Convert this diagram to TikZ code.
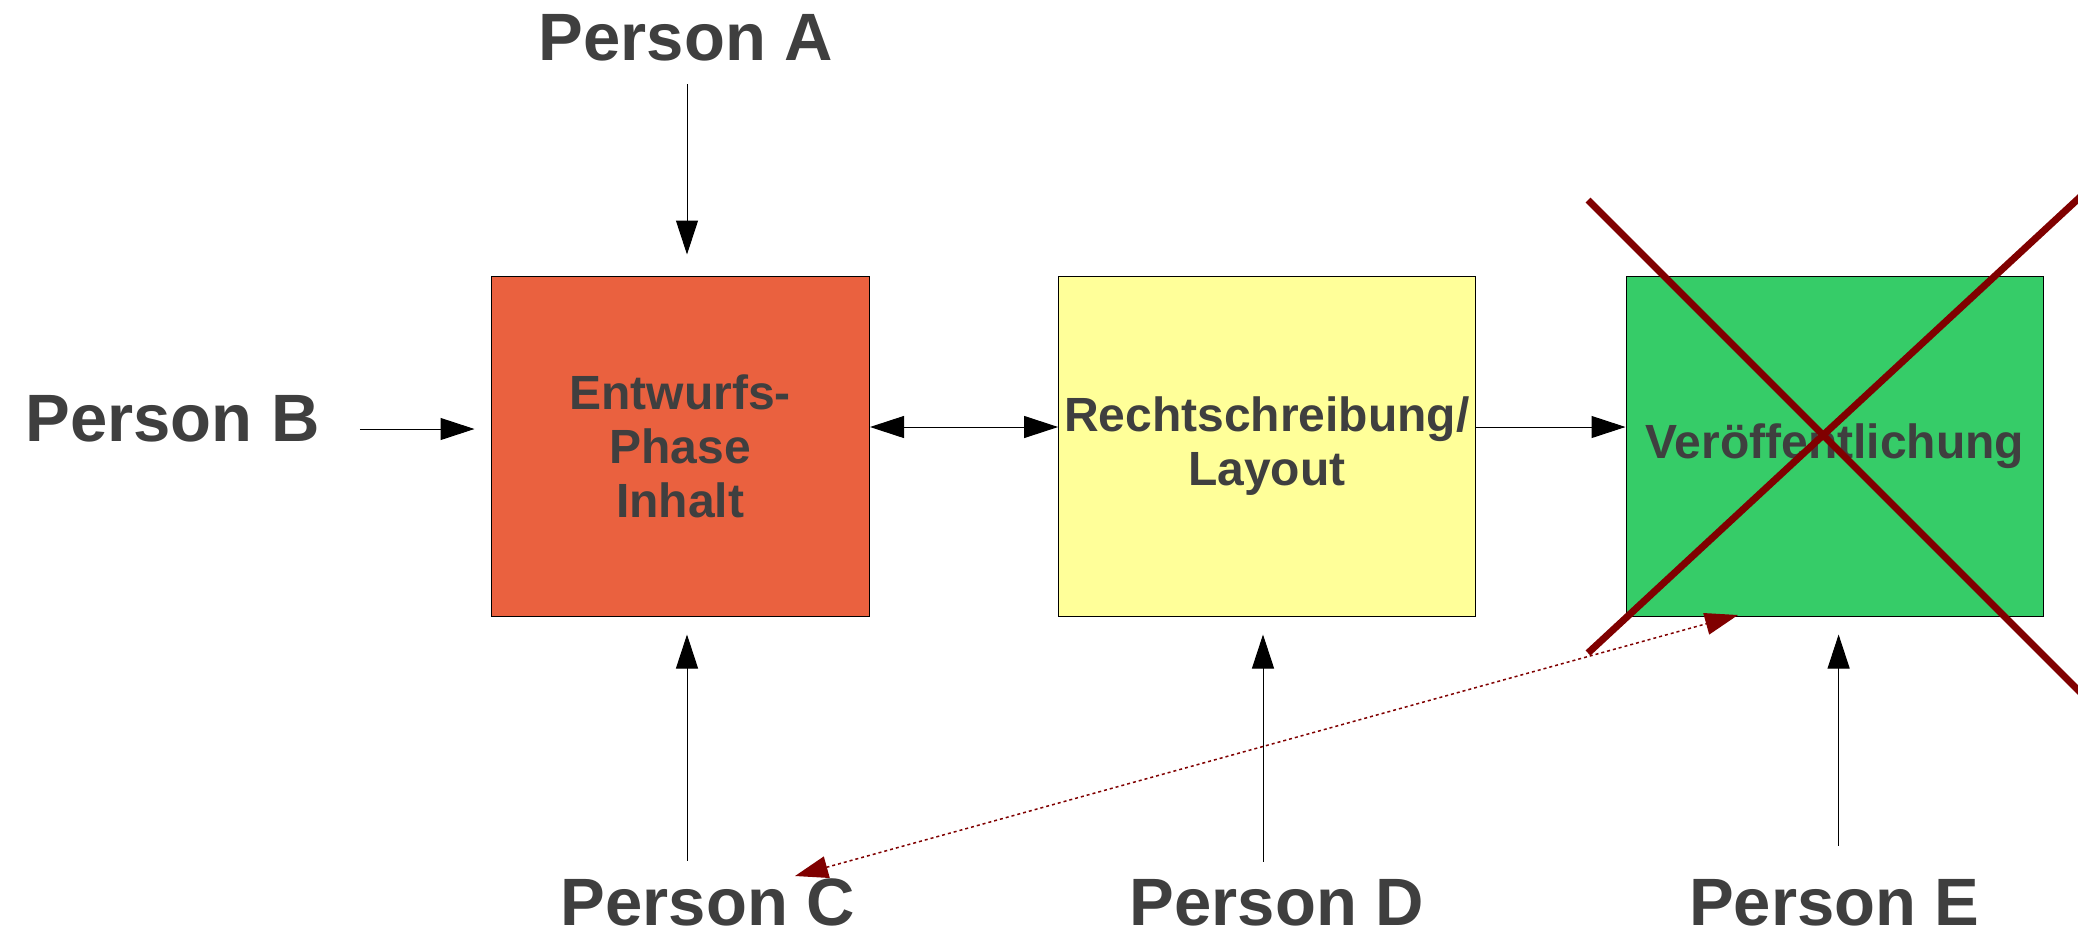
\documentclass[tikz,border=0pt]{standalone}
\usepackage{fontspec}
\setmainfont{Liberation Sans}
\usepackage{tikz}
\usetikzlibrary{arrows.meta}
\usetikzlibrary{positioning,calc}
\usepackage{xcolor}
\definecolor{textgrau}{HTML}{3F3F3F}
\definecolor{orangerot}{HTML}{EA613F}
\definecolor{hellgelb}{HTML}{FFFF99}
\definecolor{gruen}{HTML}{36CC68}
\definecolor{dunkelrot}{HTML}{800000}
\tikzstyle{person}=[text=textgrau, font=\fontsize{33.5}{40}\selectfont\bfseries, inner sep=0pt, anchor=base]
\tikzstyle{phase}=[draw=black, line width=0.5pt, text=textgrau, font=\fontsize{24}{27}\selectfont\bfseries, align=center, minimum height=170pt, inner sep=0pt]
\tikzstyle{pfeil}=[line width=0.5pt, -{Triangle[length=17pt,width=11pt]}]
\tikzstyle{doppelpfeil}=[line width=0.5pt, {Triangle[length=17pt,width=11pt]}-{Triangle[length=17pt,width=11pt]}]
\tikzstyle{rotpfeil}=[dunkelrot, line width=0.75pt, dash pattern=on 1.5pt off 1.5pt, {Triangle[length=16.5pt,width=11pt]}-{Triangle[length=16.5pt,width=11pt]}]
\tikzstyle{kreuz}=[dunkelrot, line width=3.5pt]

\begin{document}
\begin{tikzpicture}[x=0.5pt,y=-0.5pt]
\useasboundingbox (0,0) rectangle (2078,939);
\node[phase, fill=orangerot, minimum width=189.25pt] (entwurf) at (680.25,446) {Entwurfs-\\Phase\\Inhalt};
\node[phase, fill=hellgelb, minimum width=208.2pt] (layout) at (1266.8,446) {Rechtschreibung/\\Layout};
\node[phase, fill=gruen, minimum width=208.75pt] (veroeff) at (1834.75,446) {Veröffentlichung};
\node[person] (pA) at (686,60) {Person A};
\node[person] (pB) at (172.5,441) {Person B};
\node[person] (pC) at (708,925) {Person C};
\node[person] (pD) at (1277,925) {Person D};
\node[person] (pE) at (1834.5,925) {Person E};
\coordinate (xAC) at (687,0);
\coordinate (xD) at (1263,0);
\coordinate (xE) at (1838.6,0);
\coordinate (yB) at (0,429);
\coordinate (yM) at (0,427);
\draw[pfeil, shorten <=11.5pt, shorten >=10.5pt] (pA.south -| xAC) -- (entwurf.north -| xAC);
\draw[pfeil, shorten <=20pt, shorten >=8pt] (pB.east |- yB) -- (entwurf.west |- yB);
\draw[pfeil, shorten <=8.5pt, shorten >=9pt] (pC.north -| xAC) -- (entwurf.south -| xAC);
\draw[pfeil, shorten <=8.5pt, shorten >=9pt] (pD.north -| xD) -- (layout.south -| xD);
\draw[pfeil, shorten <=16.5pt, shorten >=9pt] (pE.north -| xE) -- (veroeff.south -| xE);
\draw[doppelpfeil] (entwurf.east |- yM) -- (layout.west |- yM);
\draw[pfeil] (layout.east |- yM) -- (veroeff.west |- yM);
\draw[kreuz] (1588,200) -- (2100,712);
\draw[kreuz] (1588,653) -- (2100,178.6);
\coordinate (rC) at (795,876);
\coordinate (rE) at (1738,615);
\draw[rotpfeil] (rC) -- (rE);
\end{tikzpicture}
\end{document}
